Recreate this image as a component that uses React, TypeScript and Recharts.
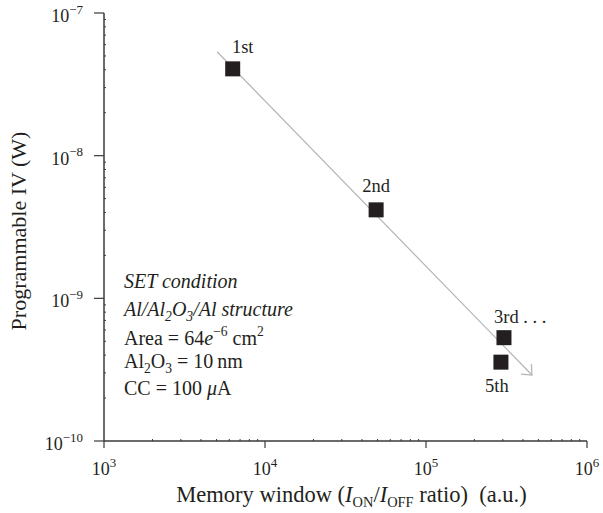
import React from "react";
import { ScatterChart, Scatter, XAxis, YAxis, ReferenceLine } from "recharts";

// (log-log)
const memoryWindow = [6300, 49000, 305000, 292000];
const programmableIV = [4.06e-8, 4.17e-9, 5.3e-10, 3.57e-10];
const pointLabels = ["1st", "2nd", "3rd . . .", "5th"];

const arrowX = [5040, 455000];
const arrowY = [5.35e-8, 2.9e-10];

const xMajor = [1e3, 1e4, 1e5, 1e6];
const yMajor = [1e-10, 1e-9, 1e-8, 1e-7];
const xExp = ["3", "4", "5", "6"];
const yExp = ["\u221210", "\u22129", "\u22128", "\u22127"];
const minorSteps = [2, 3, 4, 5, 6, 7, 8, 9];

const xTicks = [...xMajor, ...xMajor.slice(0, -1).flatMap((m) => minorSteps.map((k) => m * k))];
const yTicks = [...yMajor, ...yMajor.slice(0, -1).flatMap((m) => minorSteps.map((k) => m * k))];

const data = memoryWindow.map((x, i) => ({ x, y: programmableIV[i], label: pointLabels[i], idx: i }));

const FONT = "'Liberation Serif', 'Times New Roman', serif";
const AXIS = "#3a3a3a";

type Seg = { t: string; s?: "sub" | "sup"; i?: boolean };

function Rich({ segs, x, y, size, anchor = "start", small = 0.68, raise = 0.45, drop = 0.25 }: { segs: Seg[]; x: number; y: number; size: number; anchor?: string; small?: number; raise?: number; drop?: number }) {
  let cur = 0;
  return (
    <text x={x} y={y} fontSize={size} fontFamily={FONT} fill="#231f20" textAnchor={anchor} style={{ whiteSpace: "pre" }}>
      {segs.map((s, k) => {
        const target = s.s === "sub" ? size * drop : s.s === "sup" ? -size * raise : 0;
        const dy = target - cur;
        cur = target;
        return (
          <tspan key={k} dy={dy} fontSize={s.s ? size * small : size} fontStyle={s.i ? "italic" : undefined}>
            {s.t}
          </tspan>
        );
      })}
    </text>
  );
}

const isMajor = (v: number) => Math.abs(Math.log10(v) - Math.round(Math.log10(v))) < 1e-9;

const BottomTick = (props: any) => {
  const { x, y, payload } = props;
  const v = payload.value;
  if (!isMajor(v)) return <line x1={x} x2={x} y1={y} y2={y - 2} stroke={AXIS} strokeWidth={1} />;
  const i = xMajor.findIndex((m) => Math.abs(m - v) / m < 1e-9);
  return (
    <g>
      <line x1={x} x2={x} y1={y} y2={y + 7} stroke={AXIS} strokeWidth={1.2} />
      <Rich segs={[{ t: "10" }, { t: xExp[i], s: "sup" }]} x={x} y={y + 34} size={18} anchor="middle" small={0.72} raise={0.47} />
    </g>
  );
};

const LeftTick = (props: any) => {
  const { x, y, payload } = props;
  const v = payload.value;
  if (!isMajor(v)) return <line x1={x} x2={x + 2} y1={y} y2={y} stroke={AXIS} strokeWidth={1} />;
  const i = yMajor.findIndex((m) => Math.abs(m - v) / m < 1e-9);
  return (
    <g>
      <line x1={x - 10} x2={x} y1={y} y2={y} stroke={AXIS} strokeWidth={1.2} />
      <Rich segs={[{ t: "10" }, { t: yExp[i], s: "sup" }]} x={x - 21} y={y + 9} size={18} anchor="end" small={0.72} raise={0.47} />
    </g>
  );
};

const TopTick = (props: any) => {
  const { x, y } = props;
  return <line x1={x} x2={x} y1={y} y2={y + 2} stroke={AXIS} strokeWidth={1} />;
};

const RightTick = (props: any) => {
  const { x, y } = props;
  return <line x1={x} x2={x - 2} y1={y} y2={y} stroke={AXIS} strokeWidth={1} />;
};

const labelPlace = [
  { dx: 10, dy: -16, anchor: "middle" },
  { dx: 0, dy: -18, anchor: "middle" },
  { dx: -10, dy: -15, anchor: "start" },
  { dx: -4, dy: 30, anchor: "middle" },
];

const SquareShape = (props: any) => {
  const { cx, cy, payload } = props;
  const p = labelPlace[payload.idx];
  return (
    <g>
      <rect x={cx - 7.5} y={cy - 7.5} width={15} height={15} fill="#231f20" />
      <text x={cx + p.dx} y={cy + p.dy} textAnchor={p.anchor} fontSize={18.5} fontFamily={FONT} fill="#231f20" style={{ whiteSpace: "pre" }}>
        {payload.label}
      </text>
    </g>
  );
};

const ArrowShape = (props: any) => {
  const { x1, y1, x2, y2 } = props;
  const a = Math.atan2(y2 - y1, x2 - x1);
  const len = 11;
  const spread = 0.72;
  const ax = x2 - len * Math.cos(a - spread);
  const ay = y2 - len * Math.sin(a - spread);
  const bx = x2 - len * Math.cos(a + spread);
  const by = y2 - len * Math.sin(a + spread);
  return (
    <g>
      <line x1={x1} y1={y1} x2={x2} y2={y2} stroke="#b4b4b4" strokeWidth={1.2} />
      <polyline points={`${ax},${ay} ${x2},${y2} ${bx},${by}`} fill="none" stroke="#b4b4b4" strokeWidth={1.2} />
    </g>
  );
};

const XTitle = (props: any) => {
  const { viewBox } = props;
  const cx = viewBox.x + viewBox.width / 2 + 6;
  return (
    <Rich
      segs={[
        { t: "Memory window (" },
        { t: "I", i: true },
        { t: "ON", s: "sub" },
        { t: "/" },
        { t: "I", i: true },
        { t: "OFF", s: "sub" },
        { t: " ratio)  (a.u.)" },
      ]}
      x={cx}
      y={viewBox.y + 61}
      size={22.5}
      anchor="middle"
      small={0.64}
      drop={0.2}
    />
  );
};

const YTitle = (props: any) => {
  const { viewBox } = props;
  const cy = viewBox.y + viewBox.height / 2 + 4;
  return (
    <text x={26} y={cy} transform={`rotate(-90 26 ${cy})`} textAnchor="middle" fontSize={22} fontFamily={FONT} fill="#231f20">
      Programmable IV (W)
    </text>
  );
};

const noteLines: Seg[][] = [
  [{ t: "SET condition", i: true }],
  [{ t: "Al/Al", i: true }, { t: "2", s: "sub", i: true }, { t: "O", i: true }, { t: "3", s: "sub", i: true }, { t: "/Al structure", i: true }],
  [{ t: "Area = 64" }, { t: "e", i: true }, { t: "\u22126", s: "sup" }, { t: " cm" }, { t: "2", s: "sup" }],
  [{ t: "Al" }, { t: "2", s: "sub" }, { t: "O" }, { t: "3", s: "sub" }, { t: " = 10\u2009nm" }],
  [{ t: "CC = 100 " }, { t: "\u03bc", i: true }, { t: "A" }],
];
const noteBaselines = [288, 316, 345, 368, 395];

export default function App() {
  return (
    <div style={{ position: "absolute", left: 0, top: 0, width: 603, height: 513, background: "#fff" }}>
      <ScatterChart width={603} height={513} margin={{ top: 13, right: 16, bottom: 0, left: 0 }}>
        <XAxis
          dataKey="x"
          type="number"
          scale="log"
          domain={[1e3, 1e6]}
          ticks={xTicks}
          interval={0}
          allowDataOverflow
          height={72}
          tickSize={0}
          tickMargin={0}
          tickLine={false}
          axisLine={{ stroke: AXIS, strokeWidth: 1.5 }}
          tick={<BottomTick />}
          label={<XTitle />}
        />
        <XAxis
          xAxisId="top"
          orientation="top"
          type="number"
          scale="log"
          domain={[1e3, 1e6]}
          ticks={xTicks}
          interval={0}
          allowDataOverflow
          height={0}
          tickSize={0}
          tickMargin={0}
          tickLine={false}
          axisLine={{ stroke: AXIS, strokeWidth: 1.5 }}
          tick={<TopTick />}
        />
        <YAxis
          dataKey="y"
          type="number"
          scale="log"
          domain={[1e-10, 1e-7]}
          ticks={yTicks}
          interval={0}
          allowDataOverflow
          width={104}
          tickSize={0}
          tickMargin={0}
          tickLine={false}
          axisLine={{ stroke: AXIS, strokeWidth: 1.5 }}
          tick={<LeftTick />}
          label={<YTitle />}
        />
        <YAxis
          yAxisId="right"
          orientation="right"
          type="number"
          scale="log"
          domain={[1e-10, 1e-7]}
          ticks={yTicks}
          interval={0}
          allowDataOverflow
          width={0}
          tickSize={0}
          tickMargin={0}
          tickLine={false}
          axisLine={{ stroke: AXIS, strokeWidth: 1.5 }}
          tick={<RightTick />}
        />
        <Scatter data={data} shape={<SquareShape />} isAnimationActive={false} />
        <ReferenceLine
          segment={[
            { x: arrowX[0], y: arrowY[0] },
            { x: arrowX[1], y: arrowY[1] },
          ]}
          shape={<ArrowShape />}
        />
      </ScatterChart>
      <svg width={603} height={513} style={{ position: "absolute", left: 0, top: 0, pointerEvents: "none" }}>
        {noteLines.map((segs, k) => (
          <Rich key={k} segs={segs} x={124} y={noteBaselines[k]} size={20} />
        ))}
      </svg>
    </div>
  );
}
